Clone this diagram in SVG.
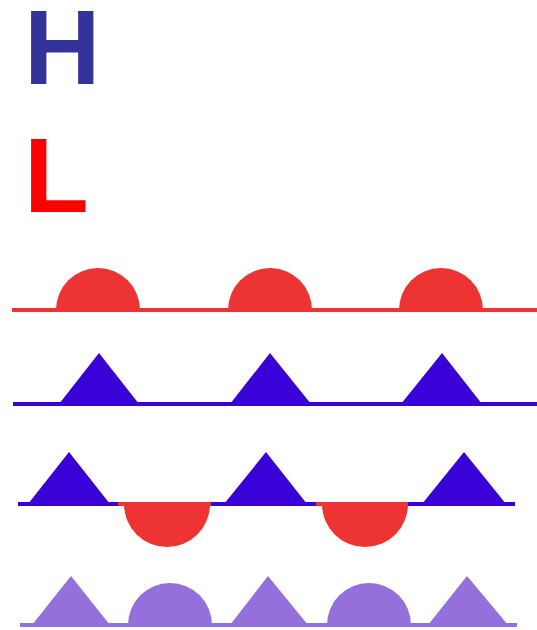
<svg xmlns="http://www.w3.org/2000/svg" width="537" height="630" viewBox="0 0 537 630">
<style>
.lbl{font-family:"Liberation Sans",Arial,sans-serif;font-weight:bold;font-size:106px}
.warm{fill:#ee3333}
.warmL{stroke:#ee3333;stroke-width:4;fill:none}
.cold{fill:#3a00d8}
.coldL{stroke:#3a00d8;stroke-width:4;fill:none}
.occ{fill:#9370db}
.occL{stroke:#9370db;stroke-width:4;fill:none}
</style>
<rect width="537" height="630" fill="#ffffff"/>
<g id="high"><text class="lbl" x="24" y="84" fill="#333399">H</text></g>
<g id="low"><text class="lbl" x="24" y="212" fill="#ff0000">L</text></g>
<g id="warm-front">
<line class="warmL" x1="12" y1="310" x2="537" y2="310"/>
<path class="warm" d="M56,310 A42,42 0 0 1 140,310 Z"/>
<path class="warm" d="M228,310 A42,42 0 0 1 312,310 Z"/>
<path class="warm" d="M399,310 A42,42 0 0 1 483,310 Z"/>
</g>
<g id="cold-front">
<line class="coldL" x1="13" y1="404" x2="537" y2="404"/>
<polygon class="cold" points="59,404 99,353 139,404"/>
<polygon class="cold" points="230,404 270,353 311,404"/>
<polygon class="cold" points="401,404 442,353 482,404"/>
</g>
<g id="stationary-front">
<line class="coldL" x1="18" y1="504" x2="124" y2="504"/>
<line class="warmL" x1="118" y1="504" x2="217" y2="504"/>
<line class="coldL" x1="211" y1="504" x2="322" y2="504"/>
<line class="warmL" x1="316" y1="504" x2="414" y2="504"/>
<line class="coldL" x1="408" y1="504" x2="515" y2="504"/>
<polygon class="cold" points="28,504 69,452 110,504"/>
<polygon class="cold" points="224,504 266,452 307,504"/>
<polygon class="cold" points="422,504 464,452 506,504"/>
<path class="warm" d="M124,504 A43,43 0 0 0 210,504 Z"/>
<path class="warm" d="M322,504 A43,43 0 0 0 408,504 Z"/>
</g>
<g id="occluded-front">
<line class="occL" x1="20" y1="625" x2="517" y2="625"/>
<polygon class="occ" points="32,625 71,576 110,625"/>
<polygon class="occ" points="230,625 268,576 308,625"/>
<polygon class="occ" points="428,625 467,576 508,625"/>
<path class="occ" d="M128,625 A42,42 0 0 1 212,625 Z"/>
<path class="occ" d="M327,625 A42,42 0 0 1 411,625 Z"/>
</g>
</svg>
